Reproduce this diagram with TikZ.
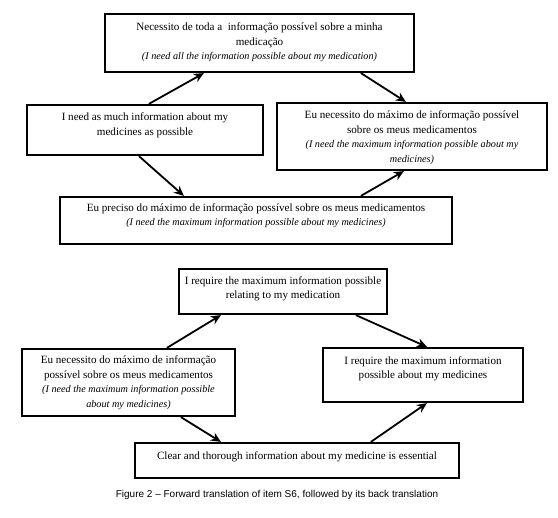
\documentclass[tikz,border=0pt]{standalone}
\usepackage{fontspec}
\setmainfont{Liberation Serif}
\newfontfamily\capfont{Liberation Sans}
\newcommand\trans[1]{{\fontsize{10.2}{14.5}\selectfont\itshape #1}}
\usetikzlibrary{calc,arrows.meta}
\begin{document}
\begin{tikzpicture}[x=1pt,y=-1pt,
  box/.style={draw=black,line width=2.2pt,rectangle,inner sep=0pt},
  txt/.style={align=center,inner sep=0pt,font=\fontsize{11.1}{14.5}\selectfont},
  arr/.style={line width=1.8pt,-{Stealth[length=10pt,width=9pt]}}]
\useasboundingbox[fill=white] (0,0) rectangle (558,518);
% boxes
\node[box,minimum width=309pt,minimum height=58pt] (b1) at (259.5,43) {};
\node[box,minimum width=236pt,minimum height=50pt] (b2) at (145,130) {};
\node[box,minimum width=270pt,minimum height=67pt] (b3) at (412,136.5) {};
\node[box,minimum width=392pt,minimum height=47pt] (b4) at (256,220.5) {};
\node[box,minimum width=208pt,minimum height=45pt] (b5) at (283,291.5) {};
\node[box,minimum width=213pt,minimum height=67pt] (b6) at (128.5,382.5) {};
\node[box,minimum width=200pt,minimum height=54pt] (b7) at (423,375) {};
\node[box,minimum width=324pt,minimum height=35pt] (b8) at (297,460.5) {};
% texts
\node[txt] (t1) at (259.5,42.5) {Necessito de toda a\ \ informação possível sobre a minha\\ medicação\\ \trans{(I need all the information possible about my medication)}};
\node[txt] (t2) at (145,125.5) {I need as much information about my\\ medicines as possible};
\node[txt] (t3) at (412,137.5) {Eu necessito do máximo de informação possível\\ sobre os meus medicamentos\\ \trans{(I need the maximum information possible about my}\\ \trans{medicines)}};
\node[txt] (t4) at (256,215.5) {Eu preciso do máximo de informação possível sobre os meus medicamentos\\ \trans{(I need the maximum information possible about my medicines)}};
\node[txt] (t5) at (283,289) {I require the maximum information possible\\ relating to my medication};
\node[txt] (t6) at (128.5,382.5) {Eu necessito do máximo de informação\\ possível sobre os meus medicamentos\\ \trans{(I need the maximum information possible}\\ \trans{about my medicines)}};
\node[txt] (t7) at (423,369) {I require the maximum information\\ possible about my medicines};
\node[txt] (t8) at (297,457) {Clear and thorough information about my medicine is essential};
\node[inner sep=0pt,font=\capfont\fontsize{10}{12}\selectfont] (cap) at (277,495) {Figure 2 – Forward translation of item S6, followed by its back translation};
% arrows
\draw[arr] ($(b2.north west)+(123,0)$) -- ($(b1.south west)+(100,0)$);
\draw[arr] ($(b1.south west)+(257,0)$) -- ($(b3.north west)+(130,0)$);
\draw[arr] ($(b2.south west)+(113,0)$) -- ($(b4.north west)+(125,0)$);
\draw[arr] ($(b4.north west)+(302,0)$) -- ($(b3.south west)+(128,0)$);
\draw[arr] ($(b6.north west)+(146,0)$) -- ($(b5.south west)+(43,0)$);
\draw[arr] ($(b5.south west)+(178,0)$) -- ($(b7.north west)+(105,0)$);
\draw[arr] ($(b6.south west)+(160,0)$) -- ($(b8.north west)+(87,0)$);
\draw[arr] ($(b8.north west)+(237,0)$) -- ($(b7.south west)+(105,0)$);
\end{tikzpicture}
\end{document}
